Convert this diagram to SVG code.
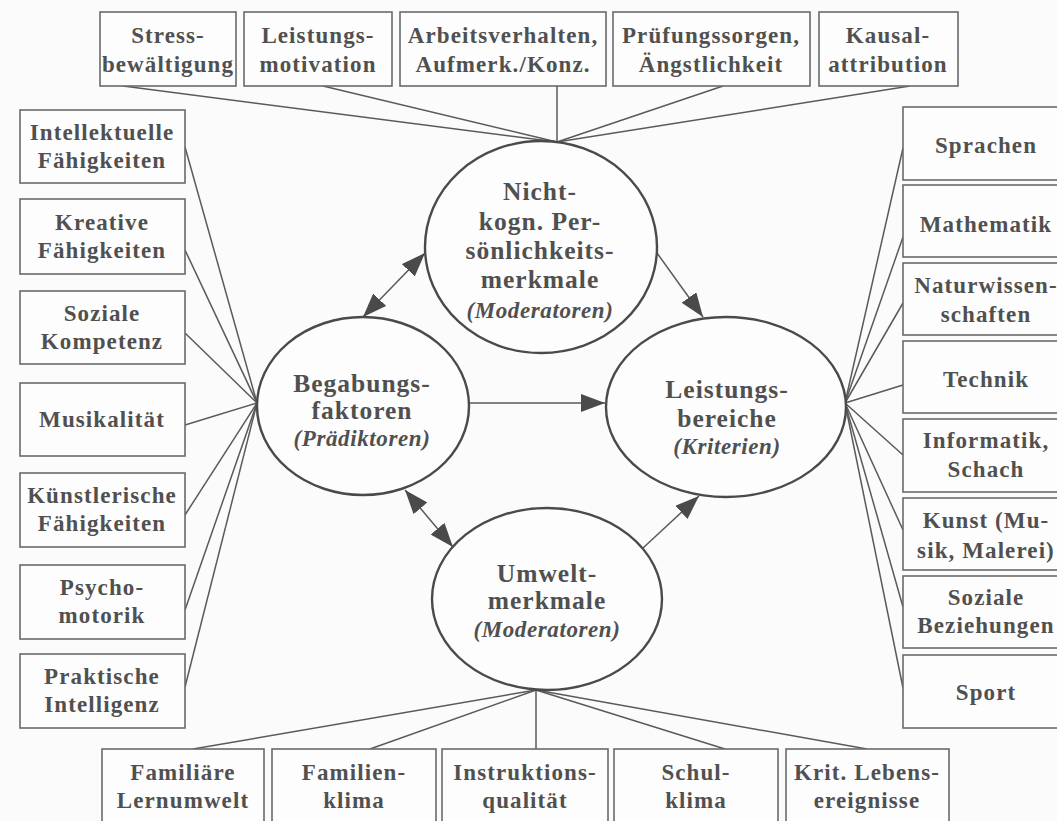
<svg xmlns="http://www.w3.org/2000/svg" width="1057" height="821" viewBox="0 0 1057 821">
  <style>
    .bg { fill: #fbfbfb; }
    .box { fill: #fdfdfd; stroke: #6a6a6a; stroke-width: 1.6; }
    .ell { fill: #fdfdfd; stroke: #4a4a4a; stroke-width: 2.4; }
    .link { stroke: #5a5a5a; stroke-width: 1.5; fill: none; }
    .arrow { stroke: #5a5a5a; stroke-width: 1.5; fill: none; }
    text { font-family: "Liberation Serif", "Times New Roman", serif; font-weight: bold; fill: #505050; text-anchor: middle; }
    .t { font-size: 23px; letter-spacing: 1.1px; }
    .e { font-size: 25.5px; letter-spacing: 1px; }
    .i { font-size: 23px; font-style: italic; letter-spacing: 0.6px; }
  </style>
  <defs>
    <marker id="head" viewBox="0 0 24 18" refX="24" refY="9" markerWidth="24" markerHeight="18" markerUnits="userSpaceOnUse" orient="auto-start-reverse">
      <path d="M0,0 L24,9 L0,18 Z" fill="#4a4a4a"/>
    </marker>
  </defs>

  <rect class="bg" x="0" y="0" width="1057" height="821"/>

  <!-- connectors -->
  <g id="connectors">
    <!-- top boxes to personality ellipse -->
    <line class="link" x1="123" y1="86" x2="557" y2="142"/>
    <line class="link" x1="323" y1="86" x2="557" y2="142"/>
    <line class="link" x1="557" y1="86" x2="557" y2="142"/>
    <line class="link" x1="723" y1="86" x2="557" y2="142"/>
    <line class="link" x1="910" y1="86" x2="557" y2="142"/>
    <!-- left boxes to aptitude ellipse -->
    <line class="link" x1="185" y1="147" x2="257" y2="403"/>
    <line class="link" x1="185" y1="250" x2="257" y2="403"/>
    <line class="link" x1="185" y1="333" x2="257" y2="403"/>
    <line class="link" x1="185" y1="425" x2="257" y2="403"/>
    <line class="link" x1="185" y1="515" x2="257" y2="403"/>
    <line class="link" x1="185" y1="610" x2="257" y2="403"/>
    <line class="link" x1="185" y1="687" x2="257" y2="403"/>
    <!-- right boxes to performance ellipse -->
    <line class="link" x1="903" y1="148" x2="845" y2="403"/>
    <line class="link" x1="903" y1="237" x2="845" y2="403"/>
    <line class="link" x1="903" y1="303" x2="845" y2="403"/>
    <line class="link" x1="903" y1="385" x2="845" y2="403"/>
    <line class="link" x1="903" y1="455" x2="845" y2="403"/>
    <line class="link" x1="903" y1="530" x2="845" y2="403"/>
    <line class="link" x1="903" y1="607" x2="845" y2="403"/>
    <line class="link" x1="903" y1="688" x2="845" y2="403"/>
    <!-- bottom boxes to environment ellipse -->
    <line class="link" x1="193" y1="749" x2="536" y2="690"/>
    <line class="link" x1="370" y1="749" x2="536" y2="690"/>
    <line class="link" x1="536" y1="749" x2="536" y2="690"/>
    <line class="link" x1="725" y1="749" x2="536" y2="690"/>
    <line class="link" x1="867" y1="749" x2="536" y2="690"/>
    <!-- arrows between the ellipses -->
    <line class="arrow" x1="363" y1="317" x2="425" y2="253" marker-start="url(#head)" marker-end="url(#head)"/>
    <line class="arrow" x1="657" y1="253" x2="703" y2="317" marker-end="url(#head)"/>
    <line class="arrow" x1="470" y1="403" x2="605" y2="403" marker-end="url(#head)"/>
    <line class="arrow" x1="405" y1="490" x2="453" y2="547" marker-start="url(#head)" marker-end="url(#head)"/>
    <line class="arrow" x1="643" y1="548" x2="699" y2="496" marker-end="url(#head)"/>
  </g>

  <!-- top row -->
  <g id="stress">
    <rect class="box" x="100" y="12" width="136" height="74"/>
    <text class="t" x="168" y="43">Stress-</text>
    <text class="t" x="168" y="72">bewältigung</text>
  </g>
  <g id="leistungsmotivation">
    <rect class="box" x="244" y="12" width="148" height="74"/>
    <text class="t" x="318" y="43">Leistungs-</text>
    <text class="t" x="318" y="72">motivation</text>
  </g>
  <g id="arbeitsverhalten">
    <rect class="box" x="400" y="12" width="206" height="74"/>
    <text class="t" x="503" y="43">Arbeitsverhalten,</text>
    <text class="t" x="503" y="72">Aufmerk./Konz.</text>
  </g>
  <g id="pruefungssorgen">
    <rect class="box" x="613" y="12" width="197" height="74"/>
    <text class="t" x="711" y="43">Prüfungssorgen,</text>
    <text class="t" x="711" y="72">Ängstlichkeit</text>
  </g>
  <g id="kausalattribution">
    <rect class="box" x="819" y="12" width="139" height="74"/>
    <text class="t" x="888" y="43">Kausal-</text>
    <text class="t" x="888" y="72">attribution</text>
  </g>

  <!-- left column -->
  <g id="intellektuelle">
    <rect class="box" x="20" y="110" width="165" height="73"/>
    <text class="t" x="102" y="140">Intellektuelle</text>
    <text class="t" x="102" y="168">Fähigkeiten</text>
  </g>
  <g id="kreative">
    <rect class="box" x="20" y="199" width="165" height="75"/>
    <text class="t" x="102" y="230">Kreative</text>
    <text class="t" x="102" y="258">Fähigkeiten</text>
  </g>
  <g id="soziale-kompetenz">
    <rect class="box" x="20" y="291" width="165" height="73"/>
    <text class="t" x="102" y="321">Soziale</text>
    <text class="t" x="102" y="349">Kompetenz</text>
  </g>
  <g id="musikalitaet">
    <rect class="box" x="20" y="383" width="165" height="73"/>
    <text class="t" x="102" y="427">Musikalität</text>
  </g>
  <g id="kuenstlerische">
    <rect class="box" x="20" y="473" width="165" height="74"/>
    <text class="t" x="102" y="503">Künstlerische</text>
    <text class="t" x="102" y="531">Fähigkeiten</text>
  </g>
  <g id="psychomotorik">
    <rect class="box" x="20" y="565" width="165" height="74"/>
    <text class="t" x="102" y="595">Psycho-</text>
    <text class="t" x="102" y="623">motorik</text>
  </g>
  <g id="praktische">
    <rect class="box" x="20" y="654" width="165" height="74"/>
    <text class="t" x="102" y="684">Praktische</text>
    <text class="t" x="102" y="712">Intelligenz</text>
  </g>

  <!-- right column -->
  <g id="sprachen">
    <rect class="box" x="903" y="107" width="170" height="73"/>
    <text class="t" x="986" y="153">Sprachen</text>
  </g>
  <g id="mathematik">
    <rect class="box" x="903" y="185" width="170" height="72"/>
    <text class="t" x="986" y="232">Mathematik</text>
  </g>
  <g id="naturwissenschaften">
    <rect class="box" x="903" y="263" width="170" height="72"/>
    <text class="t" x="986" y="293">Naturwissen-</text>
    <text class="t" x="986" y="322">schaften</text>
  </g>
  <g id="technik">
    <rect class="box" x="903" y="341" width="170" height="72"/>
    <text class="t" x="986" y="387">Technik</text>
  </g>
  <g id="informatik">
    <rect class="box" x="903" y="419" width="170" height="73"/>
    <text class="t" x="986" y="448">Informatik,</text>
    <text class="t" x="986" y="477">Schach</text>
  </g>
  <g id="kunst">
    <rect class="box" x="903" y="498" width="170" height="72"/>
    <text class="t" x="986" y="528">Kunst (Mu-</text>
    <text class="t" x="986" y="558">sik, Malerei)</text>
  </g>
  <g id="soziale-beziehungen">
    <rect class="box" x="903" y="576" width="170" height="72"/>
    <text class="t" x="986" y="605">Soziale</text>
    <text class="t" x="986" y="633">Beziehungen</text>
  </g>
  <g id="sport">
    <rect class="box" x="903" y="655" width="170" height="73"/>
    <text class="t" x="986" y="700">Sport</text>
  </g>

  <!-- bottom row -->
  <g id="familiaere-lernumwelt">
    <rect class="box" x="102" y="749" width="162" height="90"/>
    <text class="t" x="183" y="780">Familiäre</text>
    <text class="t" x="183" y="808">Lernumwelt</text>
  </g>
  <g id="familienklima">
    <rect class="box" x="272" y="749" width="164" height="90"/>
    <text class="t" x="354" y="780">Familien-</text>
    <text class="t" x="354" y="808">klima</text>
  </g>
  <g id="instruktionsqualitaet">
    <rect class="box" x="442" y="749" width="166" height="90"/>
    <text class="t" x="525" y="780">Instruktions-</text>
    <text class="t" x="525" y="808">qualität</text>
  </g>
  <g id="schulklima">
    <rect class="box" x="614" y="749" width="164" height="90"/>
    <text class="t" x="696" y="780">Schul-</text>
    <text class="t" x="696" y="808">klima</text>
  </g>
  <g id="krit-lebensereignisse">
    <rect class="box" x="786" y="749" width="163" height="90"/>
    <text class="t" x="867" y="780">Krit. Lebens-</text>
    <text class="t" x="867" y="808">ereignisse</text>
  </g>

  <!-- central ellipses -->
  <g id="persoenlichkeit">
    <ellipse class="ell" cx="541" cy="247" rx="116" ry="106"/>
    <text class="e" x="540" y="200">Nicht-</text>
    <text class="e" x="540" y="230">kogn. Per-</text>
    <text class="e" x="540" y="259">sönlichkeits-</text>
    <text class="e" x="540" y="288">merkmale</text>
    <text class="i" x="540" y="318">(Moderatoren)</text>
  </g>
  <g id="begabung">
    <ellipse class="ell" cx="363" cy="406" rx="106" ry="89"/>
    <text class="e" x="362" y="392">Begabungs-</text>
    <text class="e" x="362" y="419">faktoren</text>
    <text class="i" x="362" y="446">(Prädiktoren)</text>
  </g>
  <g id="leistung">
    <ellipse class="ell" cx="726" cy="407" rx="120" ry="90"/>
    <text class="e" x="727" y="398">Leistungs-</text>
    <text class="e" x="727" y="427">bereiche</text>
    <text class="i" x="727" y="454">(Kriterien)</text>
  </g>
  <g id="umwelt">
    <ellipse class="ell" cx="547" cy="599" rx="115" ry="91"/>
    <text class="e" x="547" y="582">Umwelt-</text>
    <text class="e" x="547" y="609">merkmale</text>
    <text class="i" x="547" y="637">(Moderatoren)</text>
  </g>
</svg>
